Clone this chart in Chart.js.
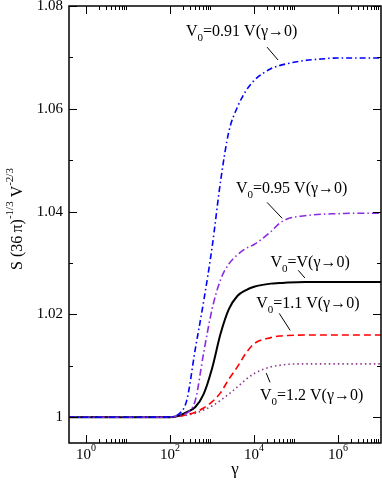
<!DOCTYPE html>
<html>
<head>
<meta charset="utf-8">
<script src="https://cdn.jsdelivr.net/npm/chart.js@4/dist/chart.umd.min.js"></script>
<style>
  body { margin: 0; background: #fff; }
  canvas { display: block; }
</style>
</head>
<body>
<canvas id="chart" width="382" height="485"></canvas>
<script>
// gamma values (x, log axis)
const gamma = [0.39, 1, 10, 100, 160, 250, 400, 630, 1000, 1600, 2500, 4000, 6300,
  1e4, 2.5e4, 4e4, 6.3e4, 1.6e5, 4e5, 1e6, 3e6, 1.1e7];

// S (36 pi)^-1/3 V^-2/3 for each V0
const v091 = [1, 1, 1, 1.0001, 1.0006, 1.0033, 1.0133, 1.0225, 1.033, 1.046, 1.0555, 1.0603,
  1.0634, 1.0655, 1.0678, 1.0684, 1.0688, 1.0694, 1.0697, 1.0699, 1.0699, 1.0699];
const v095 = [1, 1, 1, 1, 1.0004, 1.0008, 1.0033, 1.0125, 1.021, 1.0268, 1.0298, 1.0316,
  1.0328, 1.0336, 1.0361, 1.0377, 1.0386, 1.0392, 1.0395, 1.0396, 1.0397, 1.0397];
const v100 = [1, 1, 1, 1, 1.0003, 1.001, 1.002, 1.0045, 1.0095, 1.0163, 1.021, 1.0236,
  1.0247, 1.0254, 1.026, 1.0261, 1.0262, 1.0263, 1.0263, 1.0263, 1.0263, 1.0263];
const v110 = [1, 1, 1, 1, 1.0002, 1.0005, 1.001, 1.0018, 1.003, 1.0048, 1.0074, 1.0098,
  1.0124, 1.0143, 1.0155, 1.0158, 1.0159, 1.016, 1.016, 1.016, 1.016, 1.016];
const v120 = [1, 1, 1, 1, 1.0002, 1.0004, 1.0008, 1.0014, 1.0022, 1.0033, 1.0045, 1.0059,
  1.0073, 1.0085, 1.0098, 1.0101, 1.0103, 1.0104, 1.0104, 1.0104, 1.0104, 1.0104];

const yTicks = [1, 1.02, 1.04, 1.06, 1.08];
const yMinor = [1.01, 1.03, 1.05, 1.07];
const xTicks = [0, 2, 4, 6]; // exponents of 10

// curve labels: text after "V0", log10(gamma) of text start, baseline y, leader line
const labels = [
  { txt: "=0.91 V(\u03b3\u21920)", lg: 2.38, y: 1.0742, lead: [4.31, 1.0720, 4.57, 1.0695] },
  { txt: "=0.95 V(\u03b3\u21920)", lg: 3.57, y: 1.0436, lead: [4.31, 1.0418, 4.67, 1.0387] },
  { txt: "=V(\u03b3\u21920)", lg: 4.39, y: 1.0292, lead: [5.05, 1.0286, 5.21, 1.0271] },
  { txt: "=1.1 V(\u03b3\u21920)", lg: 4.05, y: 1.0212, lead: [4.6, 1.0202, 4.86, 1.0169] },
  { txt: "=1.2 V(\u03b3\u21920)", lg: 4.14, y: 1.0033, lead: [4.29, 1.0086, 4.38, 1.0068] },
];

const serif = '"Liberation Serif", "DejaVu Serif", serif';

function series(ys, color, dash, width) {
  return {
    data: gamma.map((g, i) => ({ x: g, y: ys[i] })),
    borderColor: color,
    borderWidth: width || 1.6,
    borderDash: dash,
    cubicInterpolationMode: "monotone",
    pointRadius: 0,
    fill: false,
  };
}

// draws the frame, inward ticks, tick labels, axis titles and curve labels
const decorations = {
  id: "decorations",
  afterDraw(chart) {
    const ctx = chart.ctx;
    const a = chart.chartArea;
    const xs = chart.scales.x;
    const ys = chart.scales.y;
    ctx.save();
    ctx.strokeStyle = "#000";
    ctx.fillStyle = "#000";
    ctx.lineWidth = 1.5;
    ctx.strokeRect(a.left, a.top, a.right - a.left, a.bottom - a.top);

    ctx.lineWidth = 1;
    const tick = (x1, y1, x2, y2) => {
      ctx.beginPath();
      ctx.moveTo(x1, y1);
      ctx.lineTo(x2, y2);
      ctx.stroke();
    };
    // x ticks (bottom and top)
    xTicks.forEach((e) => {
      const px = Math.round(xs.getPixelForValue(Math.pow(10, e))) + 0.5;
      tick(px, a.bottom, px, a.bottom - 8);
      tick(px, a.top, px, a.top + 8);
      for (let m = 2; m <= 9; m++) {
        const mx = Math.round(xs.getPixelForValue(m * Math.pow(10, e))) + 0.5;
        if (mx > a.right) continue;
        tick(mx, a.bottom, mx, a.bottom - 4);
        tick(mx, a.top, mx, a.top + 4);
      }
    });
    // y ticks (left and right)
    yTicks.forEach((v) => {
      const py = Math.round(ys.getPixelForValue(v)) + 0.5;
      tick(a.left, py, a.left + 8, py);
      tick(a.right, py, a.right - 8, py);
    });
    yMinor.forEach((v) => {
      const py = Math.round(ys.getPixelForValue(v)) + 0.5;
      tick(a.left, py, a.left + 4, py);
      tick(a.right, py, a.right - 4, py);
    });

    // y tick labels
    ctx.font = "15px " + serif;
    ctx.textAlign = "right";
    ctx.textBaseline = "middle";
    yTicks.forEach((v) => {
      const t = v === 1 ? "1" : v.toFixed(2);
      ctx.fillText(t, a.left - 6, ys.getPixelForValue(v));
    });

    // x tick labels 10^n
    ctx.textBaseline = "alphabetic";
    ctx.textAlign = "left";
    xTicks.forEach((e) => {
      const px = xs.getPixelForValue(Math.pow(10, e));
      ctx.font = "15px " + serif;
      const w1 = ctx.measureText("10").width;
      ctx.font = "10px " + serif;
      const w2 = ctx.measureText(String(e)).width;
      const x0 = px - (w1 + w2) / 2;
      ctx.font = "15px " + serif;
      ctx.fillText("10", x0, a.bottom + 16);
      ctx.font = "10px " + serif;
      ctx.fillText(String(e), x0 + w1, a.bottom + 8);
    });

    // x title
    ctx.font = "17px " + serif;
    ctx.textAlign = "center";
    ctx.fillText("\u03b3", 235, a.bottom + 31);

    // y title, rotated
    ctx.save();
    ctx.translate(22, 219);
    ctx.rotate(-Math.PI / 2);
    const parts = [
      ["S (36\u2009\u03c0)", 16, 0],
      ["-1/3", 11, -9],
      [" V", 16, 0],
      ["-2/3", 11, -9],
    ];
    let total = 0;
    parts.forEach((p) => {
      ctx.font = p[1] + "px " + serif;
      total += ctx.measureText(p[0]).width;
    });
    let cx = -total / 2;
    ctx.textAlign = "left";
    parts.forEach((p) => {
      ctx.font = p[1] + "px " + serif;
      ctx.fillText(p[0], cx, p[2]);
      cx += ctx.measureText(p[0]).width;
    });
    ctx.restore();

    // curve labels with V0 and leader lines
    labels.forEach((l) => {
      let x = xs.getPixelForValue(Math.pow(10, l.lg));
      const y = ys.getPixelForValue(l.y);
      ctx.textAlign = "left";
      ctx.font = "16px " + serif;
      ctx.fillText("V", x, y);
      x += ctx.measureText("V").width;
      ctx.font = "11px " + serif;
      ctx.fillText("0", x, y + 5);
      x += ctx.measureText("0").width;
      ctx.font = "16px " + serif;
      ctx.fillText(l.txt, x, y);
      ctx.lineWidth = 1;
      tick(
        xs.getPixelForValue(Math.pow(10, l.lead[0])), ys.getPixelForValue(l.lead[1]),
        xs.getPixelForValue(Math.pow(10, l.lead[2])), ys.getPixelForValue(l.lead[3])
      );
    });
    ctx.restore();
  },
};

const chart = new Chart(document.getElementById("chart").getContext("2d"), {
  type: "line",
  data: {
    datasets: [
      series(v091, "#0000ff", [6, 3, 1.5, 3]),
      series(v095, "#8a2be2", [7, 3, 1.5, 3]),
      series(v100, "#000000", [], 2),
      series(v110, "#ff0000", [7, 4]),
      series(v120, "#8b3a8b", [1.5, 3]),
    ],
  },
  options: {
    responsive: false,
    animation: false,
    layout: { padding: { left: 69, right: 1, top: 6, bottom: 42 } },
    plugins: { legend: { display: false }, tooltip: { enabled: false } },
    scales: {
      x: { type: "logarithmic", min: 0.394, max: 1.05e7, display: false },
      y: { type: "linear", min: 0.995, max: 1.08, display: false },
    },
  },
  plugins: [decorations],
});
</script>
</body>
</html>
